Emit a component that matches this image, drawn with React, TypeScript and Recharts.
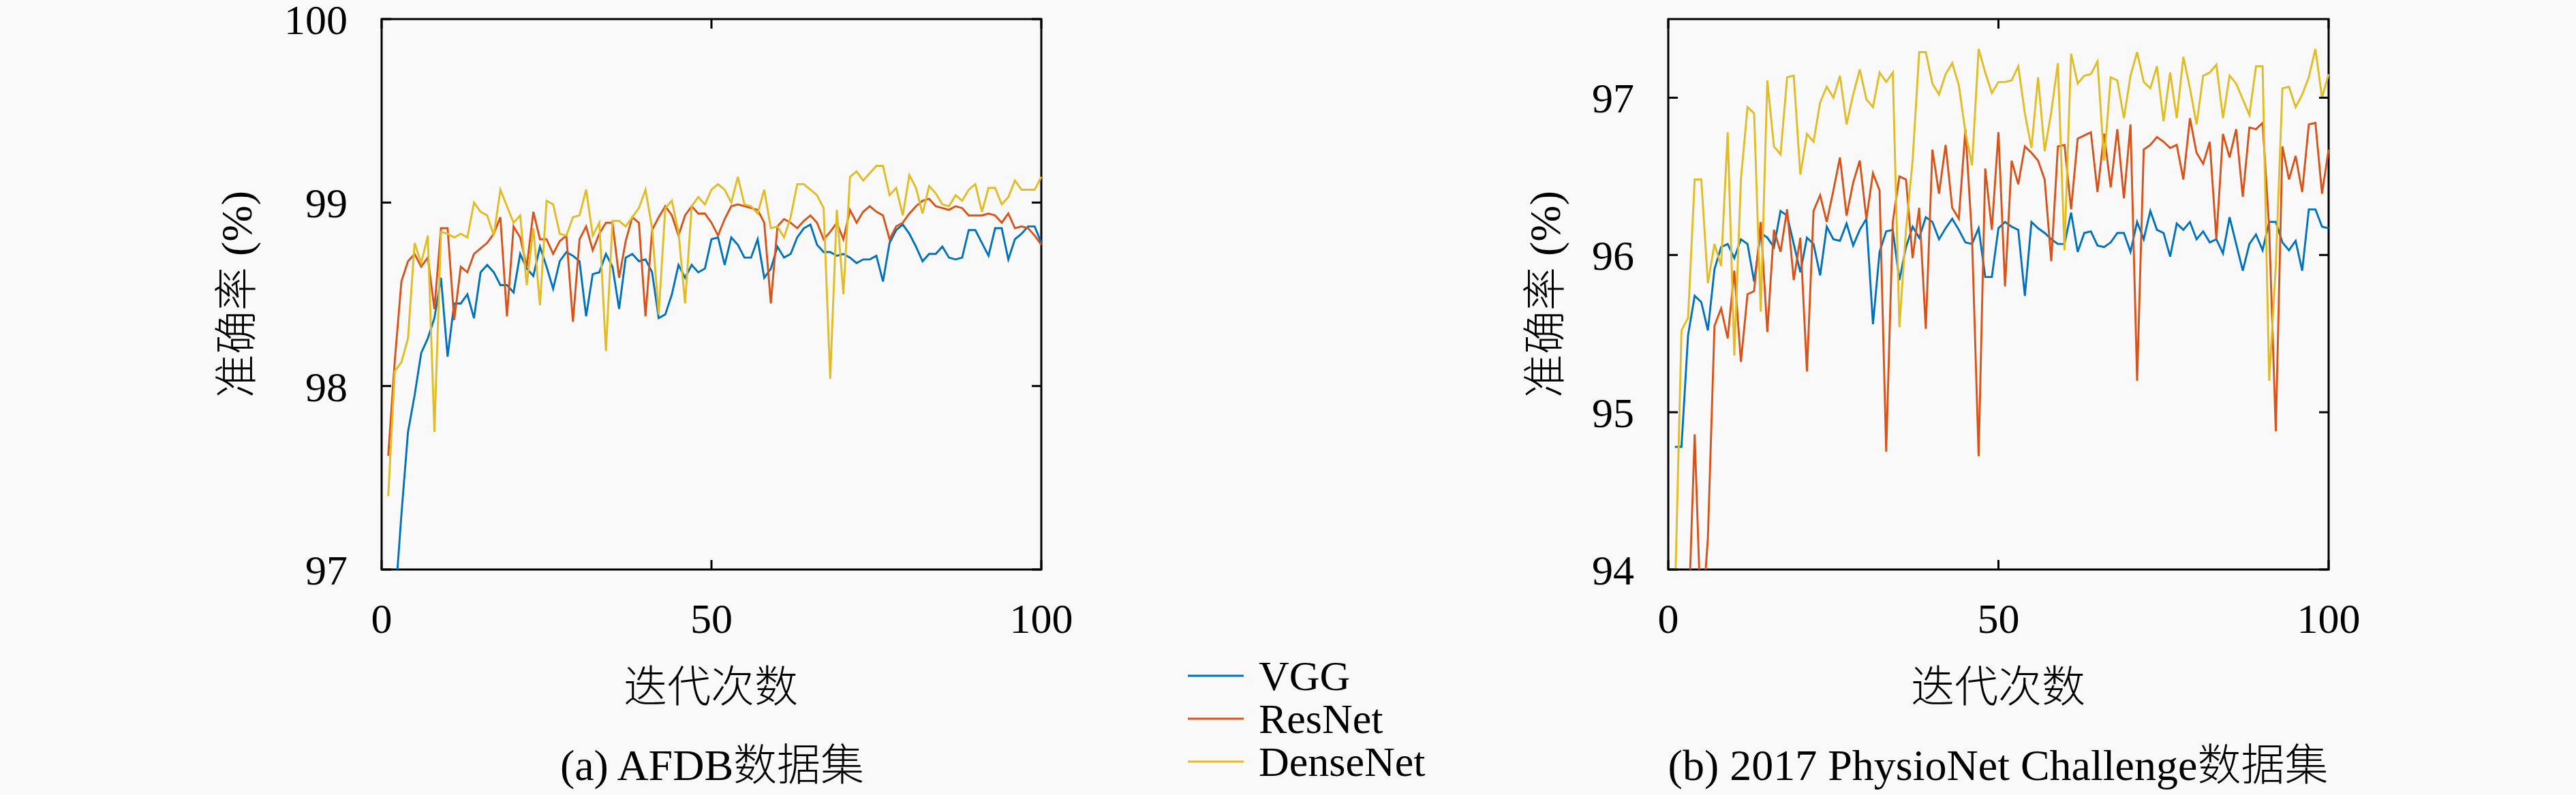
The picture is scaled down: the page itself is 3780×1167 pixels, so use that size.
import React from 'react';
import { LineChart, Line, XAxis, YAxis, ReferenceArea } from 'recharts';

// epochs 1..100
const epochs: number[] = Array.from({ length: 100 }, (_, k) => k + 1);

const seriesNames = ['VGG', 'ResNet', 'DenseNet'];
const seriesColors = ['#0072BD', '#D95319', '#E3BC24'];

// (a) AFDB
const vggA = [
  96.5, 96.8, 97.3, 97.75, 97.95, 98.18, 98.26, 98.37, 98.59, 98.16,
  98.45, 98.45, 98.5, 98.37, 98.62, 98.66, 98.62, 98.55, 98.55, 98.51,
  98.72, 98.64, 98.6, 98.76, 98.65, 98.53, 98.68, 98.73, 98.71, 98.68,
  98.38, 98.61, 98.62, 98.72, 98.65, 98.42, 98.7, 98.72, 98.68, 98.69,
  98.62, 98.37, 98.39, 98.5, 98.66, 98.59, 98.66, 98.62, 98.64, 98.8,
  98.81, 98.66, 98.81, 98.77, 98.7, 98.7, 98.8, 98.59, 98.64, 98.76,
  98.7, 98.72, 98.81, 98.86, 98.88, 98.77, 98.73, 98.73, 98.71, 98.72,
  98.7, 98.67, 98.69, 98.69, 98.71, 98.57, 98.78, 98.85, 98.88, 98.83,
  98.76, 98.68, 98.72, 98.72, 98.76, 98.7, 98.69, 98.7, 98.85, 98.85,
  98.78, 98.71, 98.86, 98.86, 98.69, 98.8, 98.83, 98.87, 98.87, 98.78,
];
const resnetA = [
  97.62, 98.14, 98.57, 98.68, 98.72, 98.65, 98.7, 98.42, 98.86, 98.86,
  98.36, 98.65, 98.62, 98.72, 98.75, 98.78, 98.83, 98.92, 98.38, 98.87,
  98.81, 98.65, 98.95, 98.8, 98.8, 98.72, 98.79, 98.82, 98.35, 98.8,
  98.87, 98.74, 98.83, 98.89, 98.89, 98.59, 98.79, 98.92, 98.89, 98.38,
  98.85, 98.92, 98.98, 98.93, 98.82, 98.93, 98.98, 98.94, 98.94, 98.89,
  98.82, 98.91, 98.98, 98.99, 98.98, 98.97, 98.96, 98.89, 98.45, 98.87,
  98.91, 98.89, 98.86, 98.9, 98.93, 98.89, 98.8, 98.84, 98.89, 98.8,
  98.96, 98.89, 98.95, 98.98, 98.95, 98.93, 98.8, 98.87, 98.89, 98.94,
  98.98, 99.01, 99.02, 98.98, 98.97, 98.96, 98.98, 98.97, 98.93, 98.93,
  98.93, 98.94, 98.93, 98.89, 98.94, 98.86, 98.87, 98.86, 98.82, 98.77,
];
const densenetA = [
  97.4, 98.08, 98.13, 98.26, 98.78, 98.67, 98.82, 97.75, 98.84, 98.83,
  98.81, 98.83, 98.81, 99.0, 98.95, 98.93, 98.82, 99.07, 98.98, 98.89,
  98.93, 98.55, 98.86, 98.44, 99.01, 98.99, 98.83, 98.82, 98.92, 98.93,
  99.07, 98.82, 98.89, 98.19, 98.9, 98.9, 98.87, 98.92, 98.97, 99.07,
  98.86, 98.39, 98.97, 99.01, 98.84, 98.45, 98.98, 99.03, 98.99, 99.07,
  99.1, 99.07, 99.0, 99.14, 98.99, 98.98, 98.94, 99.07, 98.86, 98.87,
  98.81, 98.92, 99.1, 99.1, 99.07, 99.04, 98.97, 98.04, 98.96, 98.5,
  99.14, 99.17, 99.12, 99.16, 99.2, 99.2, 99.04, 99.08, 98.93, 99.15,
  99.08, 98.94, 99.09, 99.05, 98.99, 98.98, 99.04, 99.01, 99.07, 99.1,
  98.95, 99.08, 99.08, 98.99, 99.03, 99.12, 99.07, 99.07, 99.07, 99.14,
];

// (b) 2017 PhysioNet Challenge
const vggB = [
  94.78, 94.78, 95.49, 95.74, 95.7, 95.52, 95.91, 96.05, 96.07, 95.98,
  96.1, 96.07, 95.83, 96.14, 96.11, 96.05, 96.28, 96.25, 96.07, 95.89,
  96.11, 96.07, 95.87, 96.18, 96.1, 96.09, 96.2, 96.06, 96.16, 96.23,
  95.56, 96.02, 96.15, 96.16, 95.84, 96.05, 96.18, 96.11, 96.24, 96.21,
  96.1, 96.17, 96.23, 96.16, 96.08, 96.07, 96.17, 95.86, 95.86, 96.17,
  96.21, 96.18, 96.16, 95.74, 96.21, 96.17, 96.14, 96.1, 96.07, 96.07,
  96.27, 96.02, 96.14, 96.15, 96.06, 96.05, 96.08, 96.14, 96.14, 96.02,
  96.21, 96.1, 96.28, 96.16, 96.14, 95.99, 96.2, 96.16, 96.21, 96.1,
  96.15, 96.08, 96.1, 96.01, 96.24, 96.07, 95.9, 96.07, 96.13, 96.03,
  96.21, 96.21, 96.08, 96.03, 96.09, 95.9, 96.29, 96.29, 96.18, 96.17,
];
const resnetB = [
  93.3, 93.5, 93.6, 94.86, 93.6, 94.2, 95.55, 95.66, 95.47, 95.9,
  95.32, 95.75, 95.77, 96.21, 95.51, 96.16, 96.02, 96.29, 95.84, 96.11,
  95.26, 96.28, 96.38, 96.21, 96.41, 96.62, 96.25, 96.46, 96.6, 96.23,
  96.52, 96.41, 94.75, 96.21, 96.5, 96.48, 95.98, 96.3, 95.53, 96.67,
  96.39, 96.7, 96.3, 96.23, 96.8, 96.11, 94.72, 96.55, 96.16, 96.78,
  95.8, 96.6, 96.45, 96.69, 96.65, 96.6, 96.48, 95.96, 96.69, 96.7,
  96.29, 96.74, 96.76, 96.78, 96.4, 96.77, 96.43, 96.8, 96.36, 96.83,
  95.2, 96.67, 96.7, 96.75, 96.72, 96.68, 96.7, 96.48, 96.87, 96.65,
  96.58, 96.72, 96.1, 96.77, 96.62, 96.8, 96.37, 96.81, 96.8, 96.84,
  96.17, 94.88, 96.69, 96.48, 96.63, 96.4, 96.83, 96.84, 96.39, 96.67,
];
const densenetB = [
  93.8, 95.52, 95.6, 96.48, 96.48, 95.82, 96.07, 95.93, 96.78, 95.36,
  96.48, 96.94, 96.9, 95.64, 97.11, 96.69, 96.64, 97.13, 97.14, 96.51,
  96.77, 96.72, 96.97, 97.07, 97.0, 97.14, 96.83, 97.02, 97.18, 96.99,
  96.94, 97.16, 97.1, 97.16, 95.54, 96.16, 96.6, 97.29, 97.29, 97.09,
  97.02, 97.15, 97.22, 97.08, 96.78, 96.57, 97.31, 97.16, 97.03, 97.1,
  97.1, 97.11, 97.2, 96.9, 96.68, 97.13, 96.66, 96.91, 97.22, 96.03,
  97.28, 97.09, 97.14, 97.15, 97.23, 96.6, 97.13, 97.11, 96.87, 97.14,
  97.29, 97.1, 97.06, 97.2, 96.85, 97.16, 96.87, 97.26, 97.06, 96.83,
  97.14, 97.16, 97.21, 96.87, 97.14, 97.09, 96.99, 96.89, 97.2, 97.2,
  95.2, 95.93, 97.06, 97.07, 96.94, 97.02, 97.13, 97.31, 97.0, 97.15,
];

const xTicks = [0, 50, 100];
const yTicksA = [97, 98, 99, 100];
const yTicksB = [94, 95, 96, 97];

const captionA = '(a) AFDB数据集';
const captionB = '(b) 2017 PhysioNet Challenge数据集';
const xLabel = '迭代次数';
const yLabel = '准确率 (%)';

const FONT = '"Liberation Serif", "Noto Sans CJK SC", serif';
const FS = 62;
const TICK = 14;

const CHART_W = 1300;
const CHART_H = 960;
const M_TOP = 28;
const M_BOTTOM = 24;
const Y_AXIS_W = 200;
const X_AXIS_H = 100;

const buildRows = (a: number[], b: number[], c: number[]) =>
  epochs.map((e, k) => ({ epoch: e, VGG: a[k], ResNet: b[k], DenseNet: c[k] }));

const rowsA = buildRows(vggA, resnetA, densenetA);
const rowsB = buildRows(vggB, resnetB, densenetB);

// y tick: label on the left, inward ticks on both sides
function YTick(props: any) {
  const { x, y, payload, plotWidth } = props;
  return (
    <g>
      <line x1={x} x2={x + TICK} y1={y} y2={y} stroke="#000" strokeWidth={3} />
      <line x1={x + plotWidth - TICK} x2={x + plotWidth} y1={y} y2={y} stroke="#000" strokeWidth={3} />
      <text x={x - 50} y={y + 22} textAnchor="end" fontSize={FS} fontFamily={FONT} fill="#000">
        {payload.value}
      </text>
    </g>
  );
}

// x tick: label below, inward ticks on bottom and top
function XTick(props: any) {
  const { x, y, payload, plotHeight } = props;
  return (
    <g>
      <line x1={x} x2={x} y1={y} y2={y - TICK} stroke="#000" strokeWidth={3} />
      <line x1={x} x2={x} y1={y - plotHeight} y2={y - plotHeight + TICK} stroke="#000" strokeWidth={3} />
      <text x={x} y={y + 93} textAnchor="middle" fontSize={FS} fontFamily={FONT} fill="#000">
        {payload.value}
      </text>
    </g>
  );
}

interface PanelProps {
  rows: any[];
  left: number;
  marginLeft: number;
  marginRight: number;
  domain: [number, number];
  ticks: number[];
}

function Panel({ rows, left, marginLeft, marginRight, domain, ticks }: PanelProps) {
  const plotWidth = CHART_W - marginLeft - Y_AXIS_W - marginRight;
  const plotHeight = CHART_H - M_TOP - M_BOTTOM - X_AXIS_H;
  return (
    <div style={{ position: 'absolute', left, top: 0 }}>
      <LineChart
        width={CHART_W}
        height={CHART_H}
        data={rows}
        margin={{ top: M_TOP, right: marginRight, bottom: M_BOTTOM, left: marginLeft }}
        style={{ overflow: 'visible' }}
      >
        <XAxis
          dataKey="epoch"
          type="number"
          domain={[0, 100]}
          ticks={xTicks}
          height={X_AXIS_H}
          tickSize={0}
          tickMargin={0}
          axisLine={false}
          tickLine={false}
          tick={(p: any) => <XTick {...p} plotHeight={plotHeight} />}
        />
        <YAxis
          type="number"
          domain={domain}
          ticks={ticks}
          allowDataOverflow
          width={Y_AXIS_W}
          tickSize={0}
          tickMargin={0}
          axisLine={false}
          tickLine={false}
          tick={(p: any) => <YTick {...p} plotWidth={plotWidth} />}
        />
        {seriesNames.map((name, k) => (
          <Line
            key={name}
            dataKey={name}
            stroke={seriesColors[k]}
            strokeWidth={2.9}
            dot={false}
            activeDot={false}
            isAnimationActive={false}
          />
        ))}
        <ReferenceArea
          x1={0}
          x2={100}
          y1={domain[0]}
          y2={domain[1]}
          fill="none"
          fillOpacity={0}
          stroke="#000"
          strokeWidth={3}
          ifOverflow="visible"
        />
      </LineChart>
    </div>
  );
}

function Label({ text, x, y, rotate = false, size = FS }: { text: string; x: number; y: number; rotate?: boolean; size?: number }) {
  return (
    <div
      style={{
        position: 'absolute',
        left: x,
        top: y,
        transform: `translate(-50%, -50%)${rotate ? ' rotate(-90deg)' : ''}`,
        whiteSpace: 'nowrap',
        fontSize: size,
        fontWeight: 300,
        lineHeight: 1,
        fontFamily: FONT,
        color: '#000',
      }}
    >
      {text}
    </div>
  );
}

export default function App() {
  return (
    <div
      style={{
        position: 'absolute',
        left: 0,
        top: 0,
        width: 3780,
        height: 1167,
        background: '#f9f9f9',
        overflow: 'hidden',
      }}
    >
      <Panel rows={rowsA} left={300} marginLeft={60} marginRight={72} domain={[97, 100]} ticks={yTicksA} />
      <Panel rows={rowsB} left={2200} marginLeft={48} marginRight={83} domain={[94, 97.5]} ticks={yTicksB} />

      <Label text={yLabel} x={348} y={432} rotate size={64} />
      <Label text={yLabel} x={2268} y={432} rotate size={64} />
      <Label text={xLabel} x={1043} y={1009} size={64} />
      <Label text={xLabel} x={2932} y={1009} size={64} />
      <Label text={captionA} x={1045} y={1124} size={64} />
      <Label text={captionB} x={2932} y={1124} size={64} />

      {seriesNames.map((name, k) => (
        <div
          key={name}
          style={{ position: 'absolute', left: 1743, top: 992 + k * 63 - 31, height: 62, display: 'flex', alignItems: 'center' }}
        >
          <svg width={82} height={62}>
            <line x1={0} x2={82} y1={31} y2={31} stroke={seriesColors[k]} strokeWidth={3} />
          </svg>
          <span style={{ marginLeft: 22, fontSize: FS, fontFamily: FONT, lineHeight: 1, color: '#000' }}>{name}</span>
        </div>
      ))}
    </div>
  );
}
